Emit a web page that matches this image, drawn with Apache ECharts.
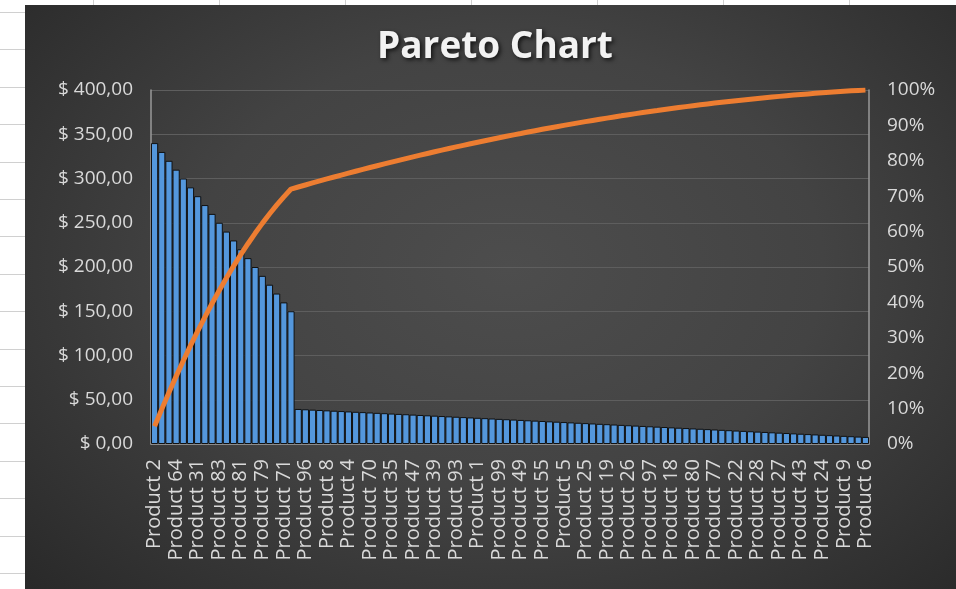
<!DOCTYPE html>
<html>
<head>
<meta charset="utf-8">
<script src="https://cdn.jsdelivr.net/npm/echarts@6/dist/echarts.min.js"></script>
<style>
  html, body { margin: 0; padding: 0; }
  body {
    width: 956px; height: 589px; overflow: hidden; position: relative;
    background-color: #fff;
    background-image:
      repeating-linear-gradient(to bottom, transparent 0px, transparent 12px, #d0d0d0 12px, #d0d0d0 13px, transparent 13px, transparent 37.4px),
      repeating-linear-gradient(to right, transparent 0px, transparent 93px, #d0d0d0 93px, #d0d0d0 94px, transparent 94px, transparent 126px);
  }
  #chart {
    position: absolute; left: 25px; top: 5px; width: 931px; height: 584px;
    background: radial-gradient(ellipse 75% 85% at 52% 45%, #4d4d4d 0%, #434343 45%, #2e2e2e 85%, #262626 100%);
  }
</style>
</head>
<body>
<div id="chart"></div>
<script>
const categories = [
  "Product 2", "Product 3", "Product 7",
  "Product 64", "Product 10", "Product 11",
  "Product 31", "Product 12", "Product 13",
  "Product 83", "Product 14", "Product 15",
  "Product 81", "Product 16", "Product 17",
  "Product 79", "Product 20", "Product 21",
  "Product 71", "Product 23", "Product 29",
  "Product 96", "Product 30", "Product 32",
  "Product 8", "Product 33", "Product 34",
  "Product 4", "Product 36", "Product 37",
  "Product 70", "Product 38", "Product 40",
  "Product 35", "Product 41", "Product 42",
  "Product 47", "Product 44", "Product 45",
  "Product 39", "Product 46", "Product 48",
  "Product 93", "Product 50", "Product 51",
  "Product 1", "Product 52", "Product 53",
  "Product 99", "Product 54", "Product 56",
  "Product 49", "Product 57", "Product 58",
  "Product 55", "Product 59", "Product 60",
  "Product 5", "Product 61", "Product 62",
  "Product 25", "Product 63", "Product 65",
  "Product 19", "Product 66", "Product 67",
  "Product 26", "Product 68", "Product 69",
  "Product 97", "Product 72", "Product 73",
  "Product 18", "Product 74", "Product 75",
  "Product 80", "Product 76", "Product 78",
  "Product 77", "Product 82", "Product 84",
  "Product 22", "Product 85", "Product 86",
  "Product 28", "Product 87", "Product 88",
  "Product 27", "Product 89", "Product 90",
  "Product 43", "Product 91", "Product 92",
  "Product 24", "Product 94", "Product 95",
  "Product 9", "Product 98", "Product 100",
  "Product 6"
];

// sales per product, sorted descending
const sales = [
  340, 330, 320, 310, 300, 290, 280, 270, 260, 250,
  240, 230, 220, 210, 200, 190, 180, 170, 160, 150,
  39.6, 39.2, 38.8, 38.4, 38.0, 37.6, 37.2, 36.8, 36.4, 36.0,
  35.6, 35.2, 34.8, 34.4, 34.0, 33.6, 33.2, 32.8, 32.4, 32.0,
  31.6, 31.2, 30.8, 30.4, 30.0, 29.6, 29.2, 28.8, 28.4, 28.0,
  27.6, 27.2, 26.8, 26.4, 26.0, 25.6, 25.2, 24.8, 24.4, 24.0,
  23.6, 23.2, 22.8, 22.4, 22.0, 21.6, 21.2, 20.8, 20.4, 20.0,
  19.6, 19.2, 18.8, 18.4, 18.0, 17.6, 17.2, 16.8, 16.4, 16.0,
  15.6, 15.2, 14.8, 14.4, 14.0, 13.6, 13.2, 12.8, 12.4, 12.0,
  11.6, 11.2, 10.8, 10.4, 10.0, 9.6, 9.2, 8.8, 8.4, 8.0
];

const leftTicks = [0, 400, 50];
const rightTicks = [0, 100, 10];

// cumulative share of total, in percent
const total = sales.reduce((a, b) => a + b, 0);
let running = 0;
const cumulative = sales.map((v) => {
  running += v;
  return +(running / total * 100).toFixed(2);
});

const chart = echarts.init(document.getElementById("chart"));
const labelColor = "#d9d9d9";
const fontFamily = "'Open Sans', sans-serif";

const option = {
  backgroundColor: "transparent",
  title: {
    text: "Pareto Chart",
    left: 347,
    top: 19,
    textStyle: {
      color: "#f2f2f2",
      fontSize: 37,
      fontWeight: "bold",
      fontFamily: fontFamily,
      textShadowColor: "rgba(0,0,0,0.7)",
      textShadowBlur: 4,
      textShadowOffsetX: 2,
      textShadowOffsetY: 2,
    },
  },
  tooltip: { trigger: "axis" },
  grid: {
    left: 126,
    right: 87,
    top: 85,
    bottom: 145,
    containLabel: false,
  },
  xAxis: {
    type: "category",
    data: categories,
    axisLine: { lineStyle: { color: "#9a9a9a", width: 1.5 } },
    axisTick: { show: false },
    axisLabel: {
      interval: 2,
      rotate: 90,
      color: labelColor,
      fontSize: 20,
      fontFamily: fontFamily,
      margin: 15,
    },
  },
  yAxis: [
    {
      type: "value",
      min: leftTicks[0],
      max: leftTicks[1],
      interval: leftTicks[2],
      axisLine: { show: true, lineStyle: { color: "#9a9a9a", width: 1.5 } },
      axisTick: { show: false },
      splitLine: { lineStyle: { color: "#5e5e5e", width: 1.2 } },
      axisLabel: {
        color: labelColor,
        fontSize: 19,
        fontFamily: fontFamily,
        margin: 18,
        padding: [4, 0, 0, 0],
        formatter: (v) => "$ " + v.toFixed(2).replace(".", ","),
      },
    },
    {
      type: "value",
      min: rightTicks[0],
      max: rightTicks[1],
      interval: rightTicks[2],
      axisLine: { show: true, lineStyle: { color: "#9a9a9a", width: 1.5 } },
      axisTick: { show: false },
      splitLine: { show: false },
      axisLabel: {
        color: labelColor,
        fontSize: 19,
        fontFamily: fontFamily,
        margin: 18,
        padding: [4, 0, 0, 0],
        formatter: "{value}%",
      },
    },
  ],
  series: [
    {
      name: "Sales",
      type: "bar",
      data: sales,
      barCategoryGap: "0%",
      itemStyle: {
        color: "#5497dc",
        borderColor: "#111",
        borderWidth: 1,
      },
    },
    {
      name: "Cumulative %",
      type: "line",
      yAxisIndex: 1,
      data: cumulative,
      showSymbol: false,
      lineStyle: { color: "#ed7d31", width: 5 },
      itemStyle: { color: "#ed7d31" },
    },
  ],
};

chart.setOption(option);
</script>
</body>
</html>
